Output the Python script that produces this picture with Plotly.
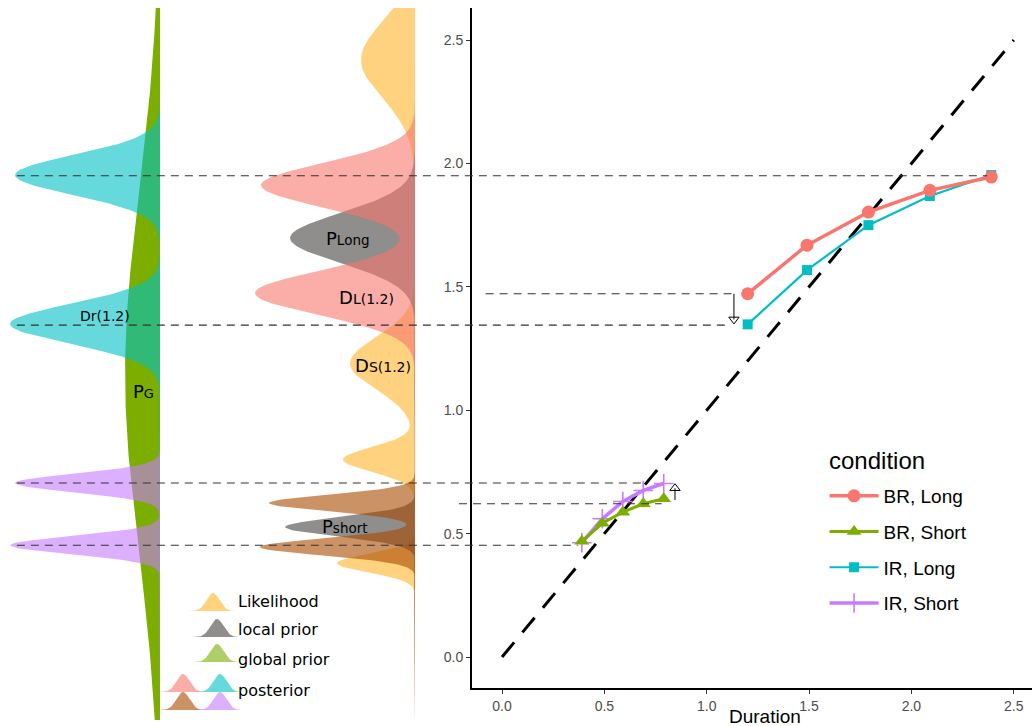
import numpy as np
import plotly.graph_objects as go

W, H = 1032, 726
MT, MB = 8, 6
PH = H - MT - MB

# ---------------- right panel data ----------------
CONDITIONS = ["BR, Long", "BR, Short", "IR, Long", "IR, Short"]
COND_COLORS = ["#F8766D", "#7CAE00", "#00BFC4", "#C77CFF"]
SHORT_X = [0.39, 0.49, 0.59, 0.69, 0.79]
LONG_X = [1.20, 1.49, 1.79, 2.09, 2.39]
BR_LONG_Y = [1.472, 1.669, 1.803, 1.891, 1.945]
BR_SHORT_Y = [0.469, 0.542, 0.587, 0.621, 0.641]
IR_LONG_Y = [1.348, 1.568, 1.750, 1.868, 1.953]
IR_SHORT_Y = [0.463, 0.560, 0.630, 0.675, 0.703]
DIAG = [0.0, 2.5]
TICK_VALS = [0, 0.5, 1.0, 1.5, 2.0, 2.5]
TICK_TEXT = ["0.0", "0.5", "1.0", "1.5", "2.0", "2.5"]

# horizontal reference lines (y, x start, x end in Duration units)
REF_Y = [1.95, 1.472, 1.345, 0.705, 0.621, 0.453]
REF_X0 = [-2.37, -0.08, -2.37, -2.37, -0.21, -2.37]
REF_X1 = [2.37, 1.15, 1.09, 0.685, 0.78, 0.37]

# arrows
ARROW_X = [1.133, 0.845]
ARROW_FROM = [1.472, 0.636]
ARROW_TO = [1.368, 0.684]
ARROW_SYMBOL = ["triangle-down-open", "triangle-up-open"]

# ---------------- density components (mean, sd, peak width) ----------------
GLOBAL_PRIOR = dict(means=[1.15], sds=[0.72], peaks=[35])
IR_LONG_POST = dict(means=[1.953, 1.35], sds=[0.08, 0.08], peaks=[145, 150])
IR_SHORT_POST = dict(means=[0.705, 0.453], sds=[0.037, 0.036], peaks=[145, 150])
LIKELIHOOD = dict(means=[2.42, 1.19, 0.80, 0.38], sds=[0.155, 0.105, 0.05, 0.037], peaks=[54, 65, 72, 78])
LOCAL_PRIOR = dict(means=[1.698, 0.527], sds=[0.10, 0.038], peaks=[125, 130])
BR_LONG_POST = dict(means=[1.912, 1.475], sds=[0.089, 0.089], peaks=[154, 160])
BR_SHORT_POST = dict(means=[0.624, 0.446], sds=[0.033, 0.034], peaks=[146, 155])

ORANGE = "rgba(255,165,0,0.5)"
GREY = "rgba(85,80,80,0.65)"
PINK = "rgba(248,118,109,0.6)"
BROWN = "rgba(168,73,0,0.6)"
CYAN = "rgba(0,191,196,0.6)"
PURPLE = "rgba(199,124,255,0.6)"
GREEN = "#7CAE00"
GREEN_LIGHT = "rgba(124,174,0,0.6)"

# ---------------- geometry ----------------
X_DOMAIN = [472 / W, 1.0]
X_RANGE = [-0.1466, 2.589]
Y_DOMAIN = [(H - MB - 688) / PH, 1.0]
Y_RANGE = [-0.1256, 2.63]
Y2_RANGE = [Y_RANGE[1] - (Y_RANGE[1] - Y_RANGE[0]) / (1 - Y_DOMAIN[0]), Y_RANGE[1]]
X5_RANGE = [X_RANGE[0] - (X_RANGE[1] - X_RANGE[0]) * X_DOMAIN[0] / (1 - X_DOMAIN[0]), X_RANGE[1]]

V = np.linspace(Y2_RANGE[0], Y2_RANGE[1], 900)


def mixture(comp):
    out = np.zeros_like(V)
    for m, s, p in zip(comp["means"], comp["sds"], comp["peaks"]):
        out += p * np.exp(-0.5 * ((V - m) / s) ** 2)
    return out


fig = go.Figure()


def density(comp, color, xaxis):
    fig.add_trace(go.Scatter(x=mixture(comp), y=V, xaxis=xaxis, yaxis="y2", mode="lines",
                             line=dict(width=0, color=color), fill="tozerox", fillcolor=color,
                             showlegend=False, hoverinfo="skip"))


# global column
density(GLOBAL_PRIOR, GREEN, "x2")
density(IR_LONG_POST, CYAN, "x2")
density(IR_SHORT_POST, PURPLE, "x2")
# middle column
density(LIKELIHOOD, ORANGE, "x3")
density(LOCAL_PRIOR, GREY, "x3")
density(BR_LONG_POST, PINK, "x3")
density(BR_SHORT_POST, BROWN, "x3")

# ---------------- right panel ----------------
fig.add_trace(go.Scatter(x=DIAG, y=DIAG, mode="lines", line=dict(color="black", width=3, dash="19px,13px"),
                         showlegend=False, hoverinfo="skip"))

series = [
    (LONG_X, BR_LONG_Y, dict(symbol="circle", size=13, color=COND_COLORS[0]), 3.5),
    (SHORT_X, BR_SHORT_Y, dict(symbol="triangle-up", size=13, color=COND_COLORS[1]), 3),
    (LONG_X, IR_LONG_Y, dict(symbol="square", size=10, color=COND_COLORS[2]), 2.2),
    (SHORT_X, IR_SHORT_Y, dict(symbol="cross-thin", size=14, color=COND_COLORS[3],
                               line=dict(width=1.6, color=COND_COLORS[3])), 3.5),
]
DRAW_ORDER = [2, 3, 0, 1]
for i in DRAW_ORDER:
    xs, ys, mk, lw = series[i]
    fig.add_trace(go.Scatter(x=xs, y=ys, mode="lines+markers", name=CONDITIONS[i],
                             legendgroup=CONDITIONS[i], legendrank=100 + i,
                             line=dict(color=COND_COLORS[i], width=lw), marker=mk, hoverinfo="skip"))

# arrows
for ax, a0, a1, sym in zip(ARROW_X, ARROW_FROM, ARROW_TO, ARROW_SYMBOL):
    fig.add_trace(go.Scatter(x=[ax, ax], y=[a0, a1], mode="lines", line=dict(color="black", width=1),
                             showlegend=False, hoverinfo="skip"))
    fig.add_trace(go.Scatter(x=[ax], y=[a1], mode="markers",
                             marker=dict(symbol=sym, size=9, color="black", line=dict(width=1, color="black")),
                             showlegend=False, hoverinfo="skip"))

# reference dashed lines across the whole figure
for yv, x0, x1 in zip(REF_Y, REF_X0, REF_X1):
    fig.add_trace(go.Scatter(x=[x0, x1], y=[yv, yv], xaxis="x5", yaxis="y", mode="lines",
                             line=dict(color="#333333", width=1.1, dash="8px,6px"),
                             showlegend=False, hoverinfo="skip"))

# ---------------- bottom-left key ----------------
KEY_LABELS = ["Likelihood", "local prior", "global prior", "posterior"]
KEY_TEXT_Y = [601, 629, 659, 690]
KEY_SWATCHES = [  # (color, centre x, base y)
    (ORANGE, 213, 611), (GREY, 217, 637), (GREEN_LIGHT, 217, 662),
    (PINK, 183, 692), (CYAN, 220, 692), (BROWN, 183, 710), (PURPLE, 220, 710),
]
for col, cx, base in KEY_SWATCHES:
    xs = np.linspace(cx - 24, cx + 22, 80)
    ys = base - 18 * np.exp(-0.5 * ((xs - cx) / 6.5) ** 2)
    fig.add_trace(go.Scatter(x=xs, y=ys, xaxis="x6", yaxis="y6", mode="lines",
                             line=dict(width=0, color=col), fill="toself", fillcolor=col,
                             showlegend=False, hoverinfo="skip"))

annotations = []
for lab, ty in zip(KEY_LABELS, KEY_TEXT_Y):
    annotations.append(dict(x=236, y=ty, xref="x6", yref="y6", text=lab, showarrow=False,
                            xanchor="left", yanchor="middle",
                            font=dict(family="DejaVu Sans", size=16, color="black")))

LABELS = [
    (105, 316, "Dr(1.2)", 14, None),
    (143, 391, "P", 18, ("G", 13)),
    (348, 238, "P", 18, ("Long", 13.5)),
    (366, 297, "D", 18, ("L(1.2)", 14)),
    (383, 365, "D", 18, ("S(1.2)", 14)),
    (345, 526, "P", 18, ("short", 13.5)),
]
for lx, ly, big, fs, sub in LABELS:
    txt = big if sub is None else big + "<span style='font-size:%spx'>%s</span>" % (sub[1], sub[0])
    annotations.append(dict(x=lx, y=ly, xref="x6", yref="y6", text=txt, showarrow=False,
                            xanchor="center", yanchor="middle",
                            font=dict(family="DejaVu Sans", size=fs, color="black")))

annotations.append(dict(x=765, y=716, xref="x6", yref="y6", text="Duration", showarrow=False,
                        xanchor="center", yanchor="middle",
                        font=dict(family="Liberation Sans", size=19, color="black")))
annotations.append(dict(x=827, y=460, xref="x6", yref="y6", text="condition", showarrow=False,
                        xanchor="left", yanchor="middle",
                        font=dict(family="Liberation Sans", size=24, color="black")))

tickfont = dict(family="Liberation Sans", size=14, color="#4D4D4D")
hidden = dict(visible=False, showgrid=False, zeroline=False, fixedrange=True)

fig.update_layout(
    width=W, height=H,
    margin=dict(l=0, r=0, t=MT, b=MB, pad=0),
    paper_bgcolor="white", plot_bgcolor="rgba(0,0,0,0)",
    xaxis=dict(domain=X_DOMAIN, range=X_RANGE, anchor="y", tickvals=TICK_VALS, ticktext=TICK_TEXT,
               showline=True, linecolor="black", linewidth=2, ticks="outside", ticklen=4,
               tickcolor="#333333", tickwidth=1, tickfont=tickfont, showgrid=False, zeroline=False),
    yaxis=dict(domain=Y_DOMAIN, range=Y_RANGE, anchor="x", tickvals=TICK_VALS, ticktext=TICK_TEXT,
               showline=True, linecolor="black", linewidth=2, ticks="outside", ticklen=4,
               tickcolor="#333333", tickwidth=1, tickfont=tickfont, showgrid=False, zeroline=False),
    xaxis2=dict(domain=[0, 160 / W], range=[160, 0], anchor="y2", **hidden),
    xaxis3=dict(domain=[0, 415 / W], range=[415, 0], anchor="y2", **hidden),
    yaxis2=dict(domain=[0, 1], range=Y2_RANGE, anchor="x2", **hidden),
    xaxis5=dict(domain=[0, 1], range=X5_RANGE, anchor="y", **hidden),
    xaxis6=dict(domain=[0, 1], range=[0, W], anchor="y6", **hidden),
    yaxis6=dict(domain=[0, 1], range=[H - MB, MT], anchor="x6", **hidden),
    legend=dict(x=0.799, y=(H - MB - 477) / PH, xanchor="left", yanchor="top",
                font=dict(family="Liberation Sans", size=19, color="black"),
                tracegroupgap=8, bgcolor="rgba(0,0,0,0)", itemwidth=49, traceorder="grouped"),
    annotations=annotations,
)

fig.write_html("out.html", config={"displayModeBar": False},
               post_script="document.body.style.margin='0px';document.body.style.padding='0px';")
